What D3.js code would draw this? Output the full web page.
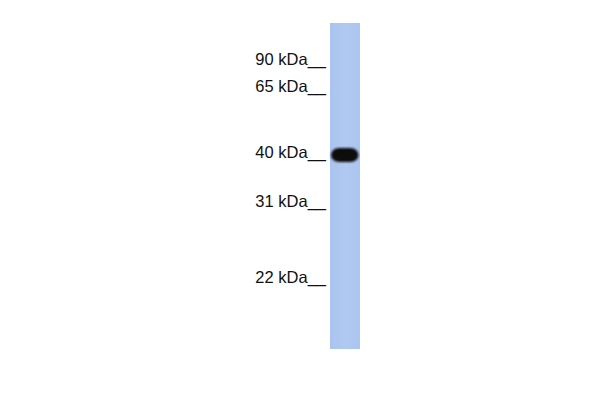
<!DOCTYPE html>
<html>
<head>
<meta charset="utf-8">
<script src="https://cdn.jsdelivr.net/npm/d3@7"></script>
<style>
  body { margin: 0; background: #fff; }
  svg { display: block; }
</style>
</head>
<body>
<div id="blot"></div>
<script>
// Marker ladder, relative migration down the lane (0 = top of lane, 1 = bottom)
const markerLabels = ["90 kDa", "65 kDa", "40 kDa", "31 kDa", "22 kDa"];
const markerPos = [0.135, 0.218, 0.421, 0.573, 0.805];

// Detected bands in the single lane
const bandPos = [0.405];
const bandStrength = [1.0];

const width = 600;
const height = 400;

const svg = d3
	.select("#blot")
	.append("svg")
	.attr("width", width)
	.attr("height", height);

// Lane geometry
const lane = { x: 330, w: 30, top: 23, bottom: 349 };

const y = d3.scaleLinear().domain([0, 1]).range([lane.top, lane.bottom]);
const bandX = d3.scaleLinear().domain([0, 1]).range([lane.x + 1, lane.x + lane.w - 1.5]);
const shade = d3.scaleLinear().domain([0, 1]).range(["#a9c3ee", "#0c0c10"]);

const defs = svg.append("defs");
defs
	.append("filter")
	.attr("id", "soft")
	.append("feGaussianBlur")
	.attr("stdDeviation", 0.8);

const grad = defs
	.append("linearGradient")
	.attr("id", "laneGrad")
	.attr("x1", 0).attr("x2", 1).attr("y1", 0).attr("y2", 0);
grad.append("stop").attr("offset", "0%").attr("stop-color", "#a9c4ef");
grad.append("stop").attr("offset", "50%").attr("stop-color", "#b0c9f2");
grad.append("stop").attr("offset", "100%").attr("stop-color", "#aac5f0");

// the lane
svg
	.append("rect")
	.attr("x", lane.x)
	.attr("y", y(0))
	.attr("width", lane.w)
	.attr("height", y(1) - y(0))
	.attr("fill", "url(#laneGrad)");

// bands
svg
	.selectAll(".band")
	.data(bandPos)
	.enter()
	.append("rect")
	.attr("class", "band")
	.attr("x", bandX(0))
	.attr("y", (d) => y(d) - 7)
	.attr("width", bandX(1) - bandX(0))
	.attr("height", 14)
	.attr("rx", 8)
	.attr("ry", 7)
	.attr("fill", (d, i) => shade(bandStrength[i]))
	.attr("filter", "url(#soft)");

// marker labels
svg
	.selectAll(".marker")
	.data(markerLabels)
	.enter()
	.append("text")
	.attr("class", "marker")
	.attr("x", 326)
	.attr("y", (d, i) => y(markerPos[i]) - 2.5)
	.attr("text-anchor", "end")
	.style("font-family", "'Liberation Sans', Arial, sans-serif")
	.style("font-size", "16.5px")
	.attr("fill", "#111")
	.text((d) => d + "__");
</script>
</body>
</html>
